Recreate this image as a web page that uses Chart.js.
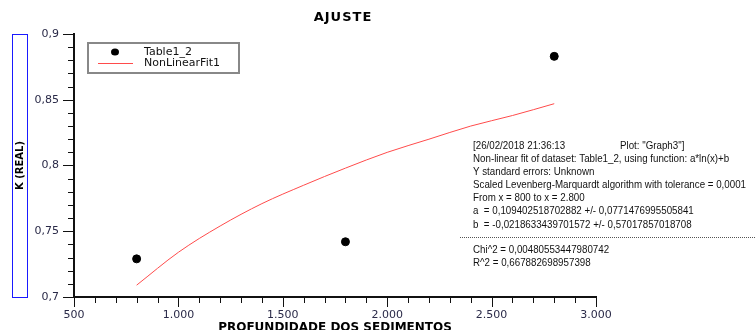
<!DOCTYPE html>
<html>
<head>
<meta charset="utf-8">
<script src="https://cdn.jsdelivr.net/npm/chart.js@4.4.1/dist/chart.umd.min.js"></script>
<style>
html,body{margin:0;padding:0;background:#fff;}
#c{display:block;}
</style>
</head>
<body>
<canvas id="c" width="755" height="330"></canvas>
<script>
const chartTitle = 'AJUSTE';
const xTitle = 'PROFUNDIDADE DOS SEDIMENTOS';
const yTitle = 'K (REAL)';
const legendLabels = ['Table1_2', 'NonLinearFit1'];

const pointX = [800, 1800, 2800];
const pointY = [0.729, 0.742, 0.883];

const fitX = [800, 1000, 1200, 1400, 1600, 1800, 2000, 2200, 2400, 2600, 2800];
const fitY = [0.709, 0.734, 0.754, 0.771, 0.785, 0.798, 0.810, 0.820, 0.830, 0.838, 0.847];

const xLabelValues = [500, 1000, 1500, 2000, 2500, 3000];
const xLabels = ['500', '1.000', '1.500', '2.000', '2.500', '3.000'];
const yLabelValues = [0.7, 0.75, 0.8, 0.85, 0.9];
const yLabels = ['0,7', '0,75', '0,8', '0,85', '0,9'];

const noteHeader = ['[26/02/2018 21:36:13', 'Plot: "Graph3"]'];
const noteLines = [
  'Non-linear fit of dataset: Table1_2, using function: a*ln(x)+b',
  'Y standard errors: Unknown',
  'Scaled Levenberg-Marquardt algorithm with tolerance = 0,0001',
  'From x = 800 to x = 2.800',
  'a  = 0,109402518702882 +/- 0,0771476995505841',
  'b  = -0,0218633439701572 +/- 0,57017857018708'
];
const noteFooter = [
  'Chi^2 = 0,00480553447980742',
  'R^2 = 0,667882698957398'
];

function labelFor(values, labels, v) {
  for (let i = 0; i < values.length; i++) {
    if (Math.abs(values[i] - v) < 1e-6) return labels[i];
  }
  return '';
}

const FIT_COLOR = 'rgb(255,75,75)';
const TICK_FONT = {family: 'DejaVu Sans', size: 11};
const TICK_COLOR = '#2a2a48';

const decor = {
  id: 'decor',
  afterDraw(chart) {
    const ctx = chart.ctx;
    const xs = chart.scales.x, ys = chart.scales.y;
    const a = chart.chartArea;
    ctx.save();
    // tick marks
    ctx.strokeStyle = '#111';
    ctx.lineWidth = 1;
    xs.ticks.forEach(t => {
      const px = Math.round(xs.getPixelForValue(t.value)) + 0.5;
      const major = labelFor(xLabelValues, xLabels, t.value) !== '';
      ctx.beginPath();
      ctx.moveTo(px, a.bottom);
      ctx.lineTo(px, a.bottom + (major ? 10 : 6));
      ctx.stroke();
    });
    ys.ticks.forEach(t => {
      const py = Math.round(ys.getPixelForValue(t.value)) + 0.5;
      const major = labelFor(yLabelValues, yLabels, t.value) !== '';
      ctx.beginPath();
      ctx.moveTo(a.left, py);
      ctx.lineTo(a.left - (major ? 11 : 6), py);
      ctx.stroke();
    });

    // title
    ctx.fillStyle = '#000';
    ctx.font = 'bold 13px "DejaVu Sans"';
    ctx.letterSpacing = '1px';
    ctx.textAlign = 'center';
    ctx.textBaseline = 'middle';
    ctx.fillText(chartTitle, 343, 18);
    ctx.letterSpacing = '0px';

    // x title
    ctx.font = 'bold 12px "DejaVu Sans"';
    ctx.textBaseline = 'top';
    ctx.fillText(xTitle, (a.left + a.right) / 2, 322);

    // y title box and text
    ctx.strokeStyle = '#1a1aff';
    ctx.lineWidth = 1;
    ctx.strokeRect(12.5, a.top + 0.5, 15, a.bottom - a.top);
    ctx.save();
    ctx.translate(20.5, (a.top + a.bottom) / 2);
    ctx.rotate(-Math.PI / 2);
    ctx.font = 'bold 10px "DejaVu Sans"';
    ctx.textAlign = 'center';
    ctx.textBaseline = 'middle';
    ctx.fillStyle = '#000';
    ctx.fillText(yTitle, 0, 0);
    ctx.restore();

    // legend
    ctx.strokeStyle = '#888';
    ctx.lineWidth = 2;
    ctx.strokeRect(88, 43, 151, 30);
    ctx.fillStyle = '#000';
    ctx.beginPath();
    ctx.ellipse(115, 52, 4, 3.5, 0, 0, Math.PI * 2);
    ctx.fill();
    ctx.strokeStyle = FIT_COLOR;
    ctx.lineWidth = 1;
    ctx.beginPath();
    ctx.moveTo(98, 63.5);
    ctx.lineTo(133, 63.5);
    ctx.stroke();
    ctx.fillStyle = '#111';
    ctx.font = '11px "DejaVu Sans"';
    ctx.textAlign = 'left';
    ctx.textBaseline = 'middle';
    ctx.fillText(legendLabels[0], 144, 52);
    ctx.fillText(legendLabels[1], 144, 63);

    // fit notes
    ctx.font = '11px "Liberation Sans"';
    const ref = ctx.measureText(noteLines[2]).width;
    const sx = 273 / ref;
    const drawNote = (txt, x, y) => {
      ctx.save();
      ctx.translate(x, y);
      ctx.scale(sx, 1);
      ctx.fillText(txt, 0, 0);
      ctx.restore();
    };
    ctx.fillStyle = '#111';
    ctx.textBaseline = 'middle';
    drawNote(noteHeader[0], 473, 146);
    drawNote(noteHeader[1], 620, 146);
    noteLines.forEach((l, i) => drawNote(l, 473, 159 + i * 13.1));
    ctx.strokeStyle = '#555';
    ctx.lineWidth = 1;
    ctx.setLineDash([1, 1]);
    ctx.beginPath();
    ctx.moveTo(460, 237.5);
    ctx.lineTo(755, 237.5);
    ctx.stroke();
    ctx.setLineDash([]);
    noteFooter.forEach((l, i) => drawNote(l, 473, 250 + i * 13.1));
    ctx.restore();
  }
};

new Chart(document.getElementById('c'), {
  type: 'scatter',
  data: {
    datasets: [
      {
        label: legendLabels[0],
        data: pointX.map((x, i) => ({x: x, y: pointY[i]})),
        backgroundColor: '#000',
        borderColor: '#000',
        pointRadius: 4,
        pointHoverRadius: 4,
        showLine: false
      },
      {
        label: legendLabels[1],
        data: fitX.map((x, i) => ({x: x, y: fitY[i]})),
        borderColor: FIT_COLOR,
        backgroundColor: FIT_COLOR,
        borderWidth: 1,
        pointRadius: 0,
        showLine: true,
        fill: false,
        cubicInterpolationMode: 'monotone'
      }
    ]
  },
  options: {
    responsive: false,
    animation: false,
    devicePixelRatio: 1,
    layout: {padding: {left: 0, right: 159, top: 34, bottom: 0}},
    plugins: {legend: {display: false}, title: {display: false}, tooltip: {enabled: false}},
    scales: {
      x: {
        type: 'linear',
        min: 500, max: 3000,
        afterFit(s) { s.height = 33; },
        border: {display: true, color: '#111', width: 2},
        grid: {display: true, drawOnChartArea: false, drawTicks: true, tickLength: 10, color: 'rgba(0,0,0,0)'},
        ticks: {
          stepSize: 100, maxTicksLimit: 100, autoSkip: false, maxRotation: 0,
          padding: 2, font: TICK_FONT, color: TICK_COLOR,
          callback: (v) => labelFor(xLabelValues, xLabels, v)
        }
      },
      y: {
        type: 'linear',
        min: 0.7, max: 0.9,
        afterFit(s) { s.width = 74; },
        border: {display: true, color: '#111', width: 2},
        grid: {display: true, drawOnChartArea: false, drawTicks: true, tickLength: 11, color: 'rgba(0,0,0,0)'},
        ticks: {
          stepSize: 0.01, maxTicksLimit: 100, autoSkip: false,
          padding: 4, font: TICK_FONT, color: TICK_COLOR,
          callback: (v) => labelFor(yLabelValues, yLabels, v)
        }
      }
    }
  },
  plugins: [decor]
});
</script>
</body>
</html>
